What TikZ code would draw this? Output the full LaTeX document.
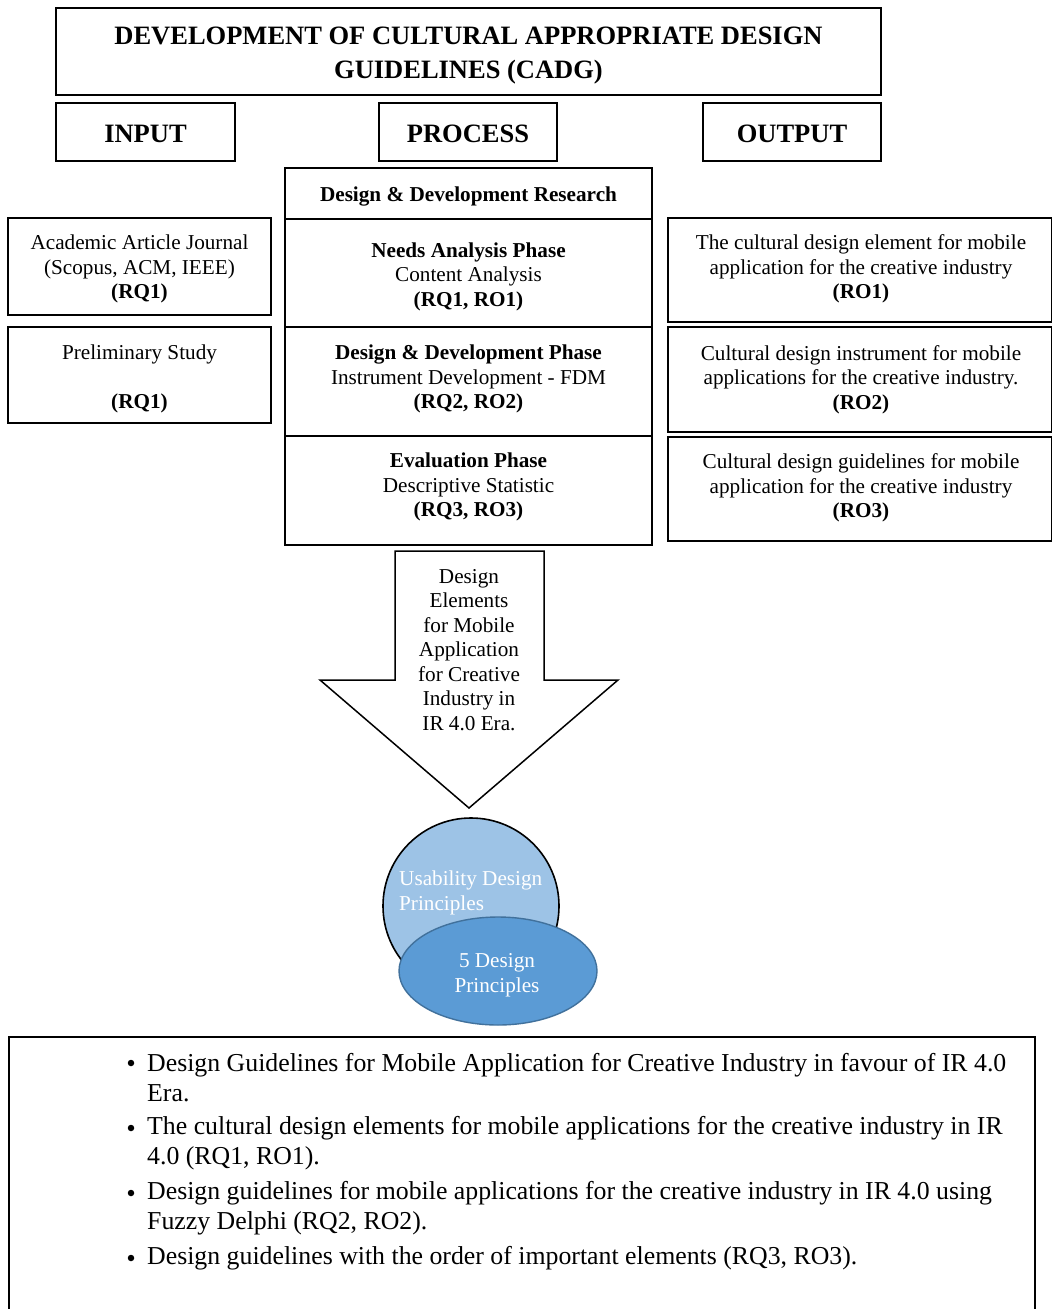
\documentclass[tikz,border=0pt]{standalone}
\usepackage{fontspec}
\setmainfont{Liberation Serif}
\usetikzlibrary{shapes.geometric}
\definecolor{lightblue}{HTML}{9DC3E6}
\definecolor{midblue}{HTML}{5B9BD5}
\definecolor{darkblue}{HTML}{41719C}
\begin{document}
\begin{tikzpicture}[x=1pt,y=-1pt,
  bx/.style={draw, line width=1.8pt, inner sep=0pt, rectangle},
  tx/.style={font=\fontsize{21.2}{24.5}\selectfont, align=center, inner sep=0pt},
  hd/.style={font=\fontsize{26.5}{34}\selectfont\bfseries, align=center, inner sep=0pt},
  bt/.style={font=\fontsize{25.8}{30}\selectfont, align=left, inner sep=0pt, anchor=west},
  bul/.style={circle, fill=black, inner sep=0pt, minimum size=6.5pt}]
\useasboundingbox (0,0) rectangle (1052,1309);
\fill[white] (0,0) rectangle (1052,1309);

% title and headers
\node[bx, minimum width=825pt, minimum height=87pt] (title) at (468.5,51.5) {};
\node[hd] (titletxt) at (468.5,55.5) {DEVELOPMENT OF CULTURAL APPROPRIATE DESIGN\\GUIDELINES (CADG)};
\node[bx, minimum width=179pt, minimum height=58pt] (input) at (145.5,132) {};
\node[hd] (inputtxt) at (145.5,134) {INPUT};
\node[bx, minimum width=178pt, minimum height=58pt] (process) at (468,132) {};
\node[hd] (processtxt) at (468,134) {PROCESS};
\node[bx, minimum width=178pt, minimum height=58pt] (output) at (792,132) {};
\node[hd] (outputtxt) at (792,134) {OUTPUT};

% process column
\node[bx, minimum width=367pt, minimum height=51pt] (ddr) at (468.5,193.5) {};
\node[tx] (ddrtxt) at (468.5,196) {\textbf{Design \& Development Research}};
\node[bx, minimum width=367pt, minimum height=108pt] (needs) at (468.5,273) {};
\node[tx] (needstxt) at (468.5,276.5) {\textbf{Needs Analysis Phase}\\Content Analysis\\\textbf{(RQ1, RO1)}};
\node[bx, minimum width=367pt, minimum height=109pt] (ddp) at (468.5,381.5) {};
\node[tx] (ddptxt) at (468.5,379) {\textbf{Design \& Development Phase}\\Instrument Development - FDM\\\textbf{(RQ2, RO2)}};
\node[bx, minimum width=367pt, minimum height=109pt] (eval) at (468.5,490.5) {};
\node[tx] (evaltxt) at (468.5,487) {\textbf{Evaluation Phase}\\Descriptive Statistic\\\textbf{(RQ3, RO3)}};

% input column
\node[bx, minimum width=263pt, minimum height=97pt] (in1) at (139.5,266.5) {};
\node[tx] (in1txt) at (139.5,269) {Academic Article Journal\\(Scopus, ACM, IEEE)\\\textbf{(RQ1)}};
\node[bx, minimum width=263pt, minimum height=96pt] (in2) at (139.5,375) {};
\node[tx] (in2txt) at (139.5,379) {Preliminary Study\\~\\\textbf{(RQ1)}};

% output column
\node[bx, minimum width=384pt, minimum height=104pt] (out1) at (860,270) {};
\node[tx] (out1txt) at (861,269) {The cultural design element for mobile\\application for the creative industry\\\textbf{(RO1)}};
\node[bx, minimum width=384pt, minimum height=105pt] (out2) at (860,379.5) {};
\node[tx] (out2txt) at (861,379.5) {Cultural design instrument for mobile\\applications for the creative industry.\\\textbf{(RO2)}};
\node[bx, minimum width=384pt, minimum height=104pt] (out3) at (860,489) {};
\node[tx] (out3txt) at (861,488) {Cultural design guidelines for mobile\\application for the creative industry\\\textbf{(RO3)}};

% big arrow
\coordinate (tip) at (469,808);
\draw[line width=1.5pt, fill=white, line join=miter] (395,551) -- (544,551) -- (544,680) -- (618,680) -- (tip) -- (320,680) -- (395,680) -- cycle;
\node[tx] (arrowtxt) at (469,650) {Design\\Elements\\for Mobile\\Application\\for Creative\\Industry in\\IR 4.0 Era.};

% circles
\node[circle, draw=black, line width=1.6pt, fill=lightblue, minimum size=176pt, inner sep=0pt] (usab) at (471,906) {};
\node[tx, text=white, align=left, anchor=west] (usabtxt) at (399,893) {Usability Design\\Principles};
\node[ellipse, draw=darkblue, line width=1.4pt, fill=midblue, minimum width=198pt, minimum height=108pt, inner sep=0pt] (five) at (498,971) {};
\node[tx, text=white] (fivetxt) at (497,975) {5 Design\\Principles};

% summary box
\node[bx, minimum width=1026pt, minimum height=300pt, anchor=north west] (sum) at (8,1036) {};
\node[bul] (b1) at (131,1063) {};
\node[bt] (i1) at (147,1078) {Design Guidelines for Mobile Application for Creative Industry in favour of IR 4.0\\Era.};
\node[bul] (b2) at (131,1128) {};
\node[bt] (i2) at (147,1143) {The cultural design elements for mobile applications for the creative industry in IR\\4.0 (RQ1, RO1).};
\node[bul] (b3) at (131,1193) {};
\node[bt] (i3) at (147,1208) {Design guidelines for mobile applications for the creative industry in IR 4.0 using\\Fuzzy Delphi (RQ2, RO2).};
\node[bul] (b4) at (131,1258) {};
\node[bt] (i4) at (147,1258) {Design guidelines with the order of important elements (RQ3, RO3).};
\end{tikzpicture}
\end{document}
